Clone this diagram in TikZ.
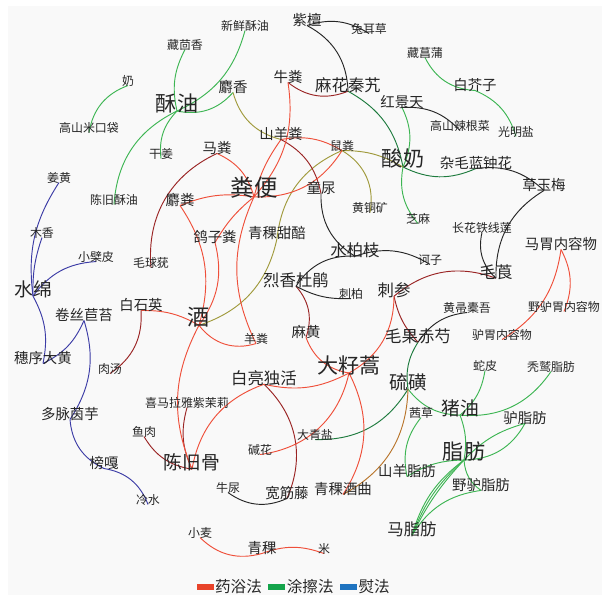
\documentclass[tikz,border=0pt]{standalone}
\usepackage{fontspec}
\setmainfont{Noto Sans CJK SC}
\usetikzlibrary{positioning}
\definecolor{bathred}{HTML}{EF4F3A}
\definecolor{rustred}{HTML}{9A2424}
\definecolor{rubgreen}{HTML}{3DB553}
\definecolor{deepgreen}{HTML}{1E7B3E}
\definecolor{ironblue}{HTML}{3C3CA6}
\definecolor{mossy}{HTML}{A09A3C}
\definecolor{ochre}{HTML}{B8742A}
\definecolor{inkgray}{HTML}{262626}
\definecolor{keyred}{HTML}{E8432A}
\definecolor{keygreen}{HTML}{14A44B}
\definecolor{keyblue}{HTML}{1E73C0}
\definecolor{paper}{HTML}{F9F9F9}
\pgfdeclarelayer{bg}
\pgfdeclarelayer{links}
\pgfsetlayers{bg,links,main}
\tikzset{
  herb/.style={inner sep=0pt, text=black!85},
  smallname/.style={herb, font=\fontsize{10.2}{11}\selectfont},
  normname/.style={herb, font=\fontsize{12.3}{13}\selectfont},
  midname/.style={herb, font=\fontsize{14}{15}\selectfont},
  largename/.style={herb, font=\fontsize{16}{17}\selectfont},
  bigname/.style={herb, font=\fontsize{18}{19}\selectfont},
  hugename/.style={herb, font=\fontsize{20}{21}\selectfont},
  link/.style={line width=0.8pt},
  bath/.style={link, draw=bathred},
  bathdark/.style={link, draw=rustred},
  rub/.style={link, draw=rubgreen},
  rubdark/.style={link, draw=deepgreen},
  press/.style={link, draw=ironblue},
  mossline/.style={link, draw=mossy},
  ochreline/.style={link, draw=ochre},
  blackline/.style={link, draw=inkgray},
  keybar/.style={minimum width=0.51cm, minimum height=0.17cm, inner sep=0pt},
  keytext/.style={herb, font=\fontsize{13.3}{14}\selectfont, node distance=1pt}
}

\begin{document}
\begin{tikzpicture}[x=0.03cm, y=-0.03cm]
  \useasboundingbox (0,0) rectangle (602,595);
  \begin{pgfonlayer}{bg}
    \fill[paper] (8,6) rectangle (602,595);
  \end{pgfonlayer}

  % upper part
  \node[normname] (zitan) at (307,20) {紫檀};
  \node[smallname] (tuercao) at (369,29) {兔耳草};
  \node[smallname] (xinsuyou) at (245,26) {新鲜酥油};
  \node[smallname] (huixiang) at (185,45) {藏茴香};
  \node[smallname] (changpu) at (425,53) {藏菖蒲};
  \node[smallname] (nai) at (128,81) {奶};
  \node[normname] (niufen) at (288,77) {牛粪};
  \node[midname] (qinjiao) at (348,85) {麻花秦艽};
  \node[normname] (jiezi) at (475,85) {白芥子};
  \node[normname] (shexiang) at (233,87) {麝香};
  \node[bigname] (suyou) at (177,103) {酥油};
  \node[normname] (hongjingtian) at (402,102) {红景天};
  \node[smallname] (lagencai) at (460,126) {高山辣根菜};
  \node[smallname] (guangmingyan) at (516,132) {光明盐};
  \node[smallname] (mikoudai) at (89,128) {高山米口袋};
  \node[normname] (shanyangfen) at (281,134) {山羊粪};
  \node[smallname] (ganjiang) at (161,154) {干姜};
  \node[normname] (mafen) at (217,148) {马粪};
  \node[smallname] (shufen) at (342,146) {鼠粪};
  \node[bigname] (suannai) at (403,159) {酸奶};
  \node[normname] (lanzhonghua) at (476,163) {杂毛蓝钟花};
  \node[hugename] (fenbian) at (254,188) {粪便};
  \node[normname] (tongniao) at (321,188) {童尿};
  \node[normname] (caoyumei) at (544,185) {草玉梅};
  \node[smallname] (jiusuyou) at (114,200) {陈旧酥油};
  \node[normname] (shefen) at (180,200) {麝粪};
  \node[smallname] (jianghuang) at (59,178) {姜黄};
  \node[smallname] (huangtongkuang) at (370,208) {黄铜矿};

  % middle part
  \node[normname] (gezifen) at (215,237) {鸽子粪};
  \node[normname] (tianpei) at (277,233) {青稞甜醅};
  \node[smallname] (zhima) at (418,219) {芝麻};
  \node[smallname] (tiexianlian) at (482,228) {长花铁线莲};
  \node[smallname] (muxiang) at (42,233) {木香};
  \node[smallname] (xiaobopi) at (96,257) {小檗皮};
  \node[midname] (shuibaizhi) at (355,250) {水柏枝};
  \node[smallname] (hezi) at (430,260) {诃子};
  \node[normname] (maweinei) at (561,244) {马胃内容物};
  \node[smallname] (maoqiuyou) at (151,263) {毛球莸};
  \node[midname] (dujuan) at (296,280) {烈香杜鹃};
  \node[midname] (maogen) at (496,272) {毛莨};
  \node[largename] (shuimian) at (33,289) {水绵};
  \node[smallname] (cibai) at (351,294) {刺柏};
  \node[midname] (cishen) at (394,290) {刺参};
  \node[normname] (baishiying) at (141,305) {白石英};
  \node[font=\fontsize{19}{20}\selectfont, herb] (jiu) at (199,317) {酒};
  \node[normname] (jutai) at (84,315) {卷丝苣苔};
  \node[smallname] (tuowu) at (467,308) {黄帚橐吾};
  \node[smallname] (yeluwei) at (564,307) {野驴胃内容物};
  \node[smallname] (yangfen) at (256,339) {羊粪};
  \node[normname] (mahuang) at (306,332) {麻黄};
  \node[midname] (chishao) at (418,336) {毛果赤芍};
  \node[smallname] (luwei) at (502,335) {驴胃内容物};
  \node[normname] (dahuang) at (43,358) {穗序大黄};
  \node[smallname] (routang) at (110,369) {肉汤};
  \node[bigname] (dazihao) at (349,365) {大籽蒿};
  \node[largename] (liuhuang) at (408,382) {硫磺};
  \node[smallname] (shepi) at (485,366) {蛇皮};
  \node[smallname] (tujiu) at (551,367) {秃鹫脂肪};
  \node[midname] (duhuo) at (264,378) {白亮独活};

  % lower part
  \node[normname] (yinyu) at (70,414) {多脉茵芋};
  \node[smallname] (zimoli) at (187,403) {喜马拉雅紫茉莉};
  \node[largename] (zhuyou) at (460,408) {猪油};
  \node[normname] (luzhi) at (525,418) {驴脂肪};
  \node[smallname] (yurou) at (144,432) {鱼肉};
  \node[smallname] (daqingyan) at (315,435) {大青盐};
  \node[smallname] (qiancao) at (421,413) {茜草};
  \node[smallname] (jianhua) at (260,450) {碱花};
  \node[bigname] (zhifang) at (464,452) {脂肪};
  \node[largename] (jiugu) at (192,462) {陈旧骨};
  \node[normname] (yangzhi) at (407,471) {山羊脂肪};
  \node[normname] (bangga) at (104,463) {榜嘎};
  \node[smallname] (niuniao) at (228,488) {牛尿};
  \node[normname] (kuanjinteng) at (287,493) {宽筋藤};
  \node[normname] (jiuqu) at (343,489) {青稞酒曲};
  \node[normname] (yeluzhi) at (481,485) {野驴脂肪};
  \node[smallname] (lengshui) at (148,500) {冷水};
  \node[midname] (mazhi) at (412,529) {马脂肪};
  \node[smallname] (xiaomai) at (200,533) {小麦};
  \node[normname] (qingke) at (262,548) {青稞};
  \node[smallname] (mi) at (324,549) {米};

  % legend
  \node[keybar, fill=keyred] (keybath) at (205,587) {};
  \node[keytext, right=of keybath] (txtbath) {药浴法};
  \node[keybar, fill=keygreen, right=5pt of txtbath] (keyrub) {};
  \node[keytext, right=of keyrub] (txtrub) {涂擦法};
  \node[keybar, fill=keyblue, right=5pt of txtrub] (keypress) {};
  \node[keytext, right=of keypress] (txtpress) {熨法};

  \begin{pgfonlayer}{links}
  % green
  \path (suyou.base) edge[rub, bend left=20] (huixiang.base)
        (suyou.base) edge[rub, bend right=25] (xinsuyou.base)
        (suyou.base) edge[rub, bend right=30] (shexiang.base)
        (suyou.base) edge[rub, bend right=25] (ganjiang.base)
        (suyou.base) edge[rub, bend right=30] (jiusuyou.base)
        (nai.base) edge[rub, bend right=30] (mikoudai.base)
        (changpu.base) edge[rub, bend right=30] (jiezi.base)
        (jiezi.base) edge[rub, bend left=25] (guangmingyan.base)
        (hongjingtian.base) edge[rub, bend left=25] (suannai.base)
        (qinjiao.base) edge[rubdark, bend left=25] (suannai.base)
        (suannai.base) edge[rubdark, bend right=25] (lanzhonghua.base)
        (suannai.base) edge[rub, bend right=25] (zhima.base)
        (chishao.base) edge[rubdark, bend right=20] (liuhuang.base)
        (liuhuang.base) edge[rubdark, bend left=30] (daqingyan.base)
        (liuhuang.base) edge[rub, bend right=25] (zhuyou.base)
        (qiancao.base) edge[rub, bend right=25] (yangzhi.base)
        (zhuyou.base) edge[rub, bend right=20] (shepi.base)
        (zhuyou.base) edge[rub, bend right=30] (tujiu.base)
        (zhuyou.base) edge[rub, bend left=15] (zhifang.base)
        (zhifang.base) edge[rub, bend left=15] (luzhi.base)
        (zhifang.base) edge[rub, bend right=30] (luzhi.base)
        (zhifang.base) edge[rub, bend right=15] (yangzhi.base)
        (zhifang.base) edge[rub, bend right=25] (yeluzhi.base)
        (zhifang.base) edge[rub, bend right=8] (mazhi.base)
        (zhifang.base) edge[rub, bend right=13] (mazhi.base)
        (zhifang.base) edge[rub, bend right=18] (mazhi.base)
        (yeluzhi.base) edge[rub, bend right=25] (mazhi.base);
  % olive and ochre
  \path (shexiang.base) edge[mossline, bend right=30] (shanyangfen.base)
        (shufen.base) edge[mossline, bend left=15] (suannai.base)
        (shufen.base) edge[mossline, bend left=35] (huangtongkuang.base)
        (shufen.base) edge[mossline, bend right=30] (tianpei.base)
        (tianpei.base) edge[mossline, bend left=30] (jiu.base)
        (liuhuang.base) edge[ochreline, bend left=30] (jiuqu.base);
  % dark red
  \path (niufen.base) edge[bathdark, bend right=30] (qinjiao.base)
        (shanyangfen.base) edge[bathdark, bend left=25] (tongniao.base)
        (mafen.base) edge[bathdark, bend right=35] (maoqiuyou.base)
        (baishiying.base) edge[bathdark, bend left=30] (routang.base)
        (zimoli.base) edge[bathdark, bend right=20] (jiugu.base)
        (yurou.base) edge[bathdark, bend right=25] (jiugu.base)
        (duhuo.base) edge[bathdark, bend left=35] (kuanjinteng.base)
        (dujuan.base) edge[bathdark, bend left=30] (mahuang.base)
        (cishen.base) edge[bathdark, bend right=15] (chishao.base)
        (cishen.base) edge[bathdark, bend left=30] (maogen.base);
  % red
  \path (niufen.base) edge[bath, bend left=25] (fenbian.base)
        (shanyangfen.base) edge[bath, bend right=10] (fenbian.base)
        (shanyangfen.base) edge[bath, bend left=20] (shufen.base)
        (shufen.base) edge[bath, bend left=30] (fenbian.base)
        (mafen.base) edge[bath, bend left=25] (fenbian.base)
        (shefen.base) edge[bath, bend left=15] (fenbian.base)
        (shefen.base) edge[bath, bend left=25] (jiu.base)
        (fenbian.base) edge[bath, bend right=10] (gezifen.base)
        (gezifen.base) edge[bath, bend left=25] (jiu.base)
        (fenbian.base) edge[bath, bend right=25] (yangfen.base)
        (baishiying.base) edge[bath, bend left=15] (jiu.base)
        (jiu.base) edge[bath, bend right=35] (yangfen.base)
        (jiu.base) edge[bath, bend right=25] (jiugu.base)
        (jiugu.base) edge[bath, bend left=30] (duhuo.base)
        (duhuo.base) edge[bath, bend right=20] (dazihao.base)
        (dazihao.base) edge[bath, bend left=30] (jiuqu.base)
        (mahuang.base) edge[bath, bend right=30] (dazihao.base)
        (cishen.base) edge[bath, bend left=30] (dazihao.base)
        (dazihao.base) edge[bath, bend left=35] (jianhua.base)
        (maweinei.base) edge[bath, bend left=25] (yeluwei.base)
        (maweinei.base) edge[bath, bend left=25] (luwei.base)
        (xiaomai.base) edge[bath, bend right=30] (qingke.base)
        (qingke.base) edge[bath, bend left=20] (mi.base);
  % black
  \path (zitan.base) edge[blackline, bend left=25] (tuercao.base)
        (zitan.base) edge[blackline, bend left=30] (qinjiao.base)
        (tongniao.base) edge[blackline, bend right=30] (shuibaizhi.base)
        (shuibaizhi.base) edge[blackline, bend right=30] (dujuan.base)
        (shuibaizhi.base) edge[blackline, bend left=25] (hezi.base)
        (dujuan.base) edge[blackline, bend right=15] (cibai.base)
        (lanzhonghua.base) edge[blackline, bend left=25] (caoyumei.base)
        (caoyumei.base) edge[blackline, bend right=30] (maogen.base)
        (tiexianlian.base) edge[blackline, bend right=30] (maogen.base)
        (hongjingtian.base) edge[blackline, bend left=25] (lagencai.base)
        (chishao.base) edge[blackline, bend left=25] (tuowu.base)
        (niuniao.base) edge[blackline, bend right=30] (kuanjinteng.base);
  % blue
  \path (shuimian.base) edge[press, bend left=20] (jianghuang.base)
        (shuimian.base) edge[press, bend left=10] (muxiang.base)
        (shuimian.base) edge[press, bend left=25] (xiaobopi.base)
        (shuimian.base) edge[press, bend left=20] (dahuang.base)
        (jutai.base) edge[press, bend left=20] (dahuang.base)
        (jutai.base) edge[press, bend left=25] (yinyu.base)
        (yinyu.base) edge[press, bend right=30] (bangga.base)
        (bangga.base) edge[press, bend left=30] (lengshui.base);
  \end{pgfonlayer}
\end{tikzpicture}
\end{document}
